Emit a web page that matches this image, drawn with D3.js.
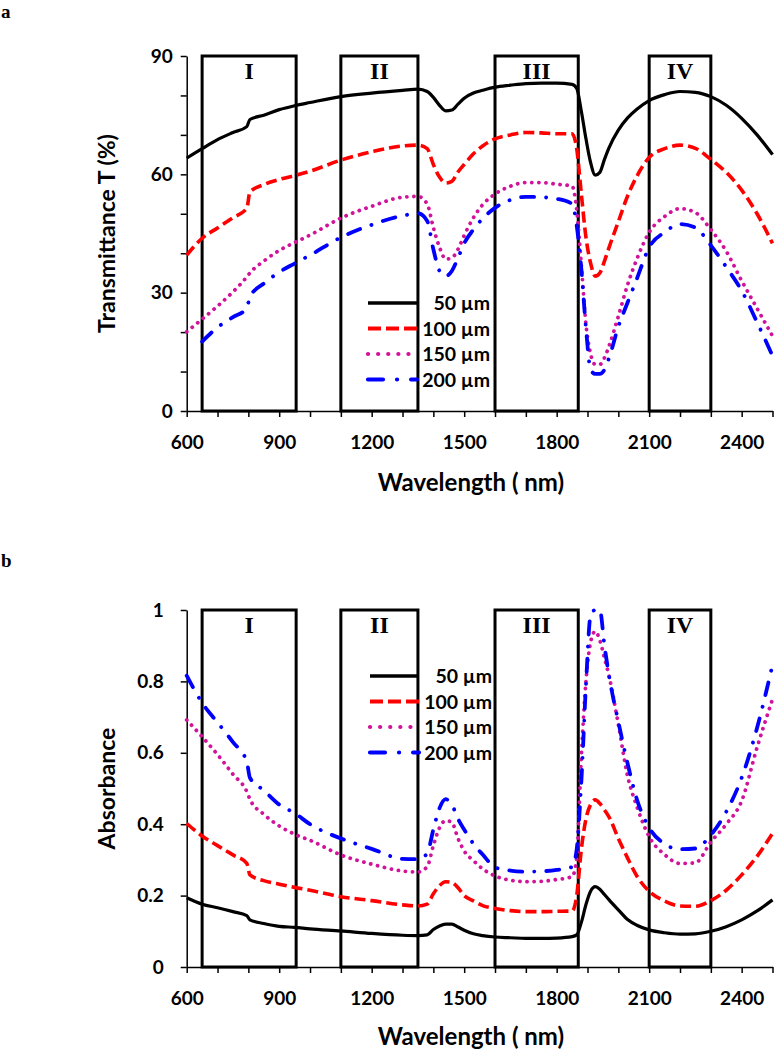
<!DOCTYPE html>
<html>
<head>
<meta charset="utf-8">
<script src="https://cdn.jsdelivr.net/npm/d3@7"></script>
<style>
  html, body { margin: 0; padding: 0; background: #fff; }
  svg { display: block; }
  .tick text { font-family: Lato, "Open Sans", sans-serif; font-weight: 700; font-size: 19px; fill: #000; }
  .axis path, .axis line { stroke: #000; stroke-width: 1.5px; }
</style>
</head>
<body>
<svg id="chart" width="775" height="1050"></svg>
<script>
// ---------- DATA ----------
const wavelength = [600,650,700,750,795,805,850,900,950,1000,1100,1200,1300,1350,1380,1400,1420,1440,1460,1480,1500,1530,1560,1600,1650,1700,1750,1800,1850,1865,1880,1895,1910,1925,1940,1955,1970,2000,2030,2060,2100,2150,2200,2250,2300,2350,2400,2450,2500];
const seriesNames = ["50 \u00b5m", "100 \u00b5m", "150 \u00b5m", "200 \u00b5m"];

// Panel a: transmittance (%)
const trans50  = [64.1,66.5,68.8,70.6,72.1,73.9,75.0,76.4,77.4,78.2,79.7,80.6,81.3,81.6,81.0,79.5,77.5,76.1,76.3,77.8,79.3,80.6,81.3,82.1,82.6,83.0,83.1,83.1,82.8,81.8,76.0,69.0,63.0,59.8,60.5,63.8,66.8,71.2,74.3,76.5,78.7,80.2,81.0,80.8,79.7,77.5,74.2,70.0,65.0];
const trans100 = [39.5,43.8,46.4,49.0,51.4,55.5,57.4,58.7,59.7,60.8,63.6,65.7,67.2,67.4,66.5,62.5,59.3,57.8,58.2,60.6,62.5,65.2,67.2,69.0,70.0,70.6,70.5,70.3,70.3,66.5,55.0,44.0,37.5,34.2,35.0,38.0,41.5,48.0,54.5,59.5,64.3,66.5,67.4,66.6,63.8,60.5,56.0,50.0,42.5];
const trans150 = [20.1,23.3,26.6,30.2,34.0,35.0,38.0,40.7,42.7,44.6,48.9,51.9,54.2,54.4,52.5,46.5,41.5,38.5,38.8,41.0,44.5,49.0,52.3,55.0,57.0,57.9,57.9,57.5,57.0,51.0,37.0,22.0,14.5,11.8,11.8,13.5,16.5,24.0,32.0,38.5,45.3,49.3,51.3,50.3,46.0,40.5,33.0,26.0,19.0];
const trans200 = [null,17.6,21.2,23.8,26.0,29.0,32.3,35.2,37.4,39.5,44.0,47.2,49.5,50.1,48.2,41.0,35.5,34.2,35.5,38.8,42.5,46.0,48.8,51.5,53.5,54.3,54.2,53.8,52.5,47.0,36.0,21.0,10.5,9.4,9.4,10.5,13.5,21.4,27.5,33.5,41.5,45.3,47.4,46.5,42.0,36.5,30.5,22.5,14.0];

// Panel b: absorbance
const abs50  = [0.194,0.176,0.166,0.155,0.144,0.132,0.122,0.114,0.111,0.107,0.101,0.094,0.089,0.088,0.090,0.105,0.115,0.120,0.120,0.112,0.103,0.093,0.088,0.084,0.082,0.080,0.080,0.081,0.085,0.090,0.125,0.175,0.212,0.225,0.218,0.203,0.188,0.160,0.133,0.117,0.104,0.096,0.092,0.093,0.100,0.113,0.132,0.157,0.188];
const abs100 = [0.402,0.367,0.340,0.314,0.290,0.258,0.242,0.232,0.223,0.215,0.197,0.186,0.174,0.171,0.176,0.205,0.228,0.239,0.237,0.222,0.200,0.185,0.172,0.164,0.158,0.155,0.155,0.156,0.157,0.200,0.330,0.415,0.455,0.468,0.458,0.440,0.420,0.360,0.305,0.255,0.212,0.185,0.171,0.170,0.186,0.215,0.258,0.310,0.374];
const abs150 = [0.692,0.645,0.595,0.540,0.491,0.470,0.428,0.395,0.372,0.355,0.314,0.288,0.269,0.266,0.281,0.340,0.390,0.410,0.405,0.360,0.325,0.298,0.275,0.255,0.243,0.239,0.240,0.245,0.253,0.305,0.590,0.800,0.910,0.940,0.915,0.865,0.815,0.680,0.535,0.450,0.365,0.315,0.290,0.292,0.350,0.400,0.465,0.615,0.750];
const abs200 = [0.816,0.740,0.685,0.630,0.575,0.530,0.495,0.455,0.431,0.400,0.360,0.331,0.303,0.302,0.318,0.385,0.445,0.470,0.455,0.415,0.385,0.345,0.315,0.279,0.270,0.267,0.268,0.272,0.280,0.330,0.520,0.790,0.985,1.000,1.000,0.900,0.815,0.687,0.570,0.470,0.390,0.345,0.330,0.332,0.370,0.435,0.530,0.670,0.846];

// Spectral regions (nm)
const regionLabels = ["I", "II", "III", "IV"];
const regionStart  = [650, 1100, 1600, 2100];
const regionEnd    = [955, 1350, 1870, 2300];

// Axis ticks
const xTicks = d3.range(600, 2501, 100);
const xLabelTicks = [600, 900, 1200, 1500, 1800, 2100, 2400];
const transTicks = d3.range(0, 91, 10);
const transLabelTicks = [0, 30, 60, 90];
const absTicks = [0, 0.2, 0.4, 0.6, 0.8, 1];

// ---------- STYLES ----------
const styles = [
  { color: "#000000", width: 3.2, dash: null, cap: "butt" },
  { color: "#ff0000", width: 3.6, dash: "11,5", cap: "butt" },
  { color: "#d0139a", width: 3.8, dash: "0.1,7", cap: "round" },
  { color: "#0000ff", width: 3.8, dash: "13,12,0.1,12", cap: "round" }
];
const legendDash = [null, "13,5", "0.1,10", "15,14,0.1,14"];

const svg = d3.select("#chart");
svg.append("rect").attr("width", 775).attr("height", 1050).attr("fill", "#fff");

const x = d3.scaleLinear().domain([600, 2500]).range([186.7, 772.5]);

function panel(cfg) {
  const g = svg.append("g");
  const y = cfg.y;
  const [y0, y1] = y.range();

  // region boxes
  regionLabels.forEach((lab, i) => {
    g.append("rect")
      .attr("x", x(regionStart[i])).attr("y", y1)
      .attr("width", x(regionEnd[i]) - x(regionStart[i]))
      .attr("height", y0 - y1)
      .attr("fill", "none").attr("stroke", "#000").attr("stroke-width", 3);
    g.append("text")
      .attr("x", (x(regionStart[i]) + x(regionEnd[i])) / 2)
      .attr("y", y1 + 23)
      .attr("text-anchor", "middle")
      .attr("font-family", "'Liberation Serif', 'DejaVu Serif', serif")
      .attr("font-weight", 700).attr("font-size", 24)
      .text(lab);
  });

  // x axis
  g.append("g").attr("class", "axis").attr("transform", `translate(0,${y0})`)
    .call(d3.axisBottom(x).tickValues(xTicks).tickSize(6).tickSizeOuter(0).tickPadding(19)
      .tickFormat(d => xLabelTicks.includes(d) ? d : ""));

  // y axis
  g.append("g").attr("class", "axis").attr("transform", `translate(${x(600)},0)`)
    .call(d3.axisLeft(y).tickValues(cfg.yTicks).tickSize(6).tickSizeOuter(0).tickPadding(cfg.yPad)
      .tickFormat(cfg.yFormat));

  // lines
  const line = d3.line()
    .x(d => x(d[0])).y(d => y(d[1]))
    .curve(d3.curveMonotoneX);
  cfg.series.forEach((vals, i) => {
    const st = styles[i];
    const pts = wavelength.map((w, j) => [w, vals[j]]).filter(d => d[1] !== null);
    g.append("path").datum(pts)
      .attr("d", line)
      .attr("fill", "none")
      .attr("stroke", st.color)
      .attr("stroke-width", st.width)
      .attr("stroke-linecap", st.cap)
      .attr("stroke-linejoin", "round")
      .attr("stroke-dasharray", st.dash);
  });

  // legend
  const lg = g.append("g");
  seriesNames.forEach((name, i) => {
    const st = styles[i];
    const ly = cfg.legendY + i * 25.5;
    lg.append("line")
      .attr("x1", cfg.legendX).attr("x2", cfg.legendX + 49)
      .attr("y1", ly).attr("y2", ly)
      .attr("stroke", st.color).attr("stroke-width", st.width + 0.4)
      .attr("stroke-linecap", st.cap)
      .attr("stroke-dasharray", legendDash[i]);
    lg.append("text")
      .attr("x", cfg.legendX + 122).attr("y", ly + 7)
      .attr("text-anchor", "end")
      .attr("font-family", "Lato, 'Open Sans', sans-serif")
      .attr("font-weight", 700).attr("font-size", 19.5)
      .text(name);
  });

  // axis titles
  g.append("text")
    .attr("x", 471).attr("y", cfg.xTitleY)
    .attr("text-anchor", "middle")
    .attr("font-family", "Lato, 'Open Sans', sans-serif")
    .attr("font-weight", 700).attr("font-size", 24)
    .text("Wavelength ( nm)");
  g.append("text")
    .attr("transform", `translate(115,${(y0 + y1) / 2}) rotate(-90)`)
    .attr("text-anchor", "middle")
    .attr("font-family", "Lato, 'Open Sans', sans-serif")
    .attr("font-weight", 700).attr("font-size", 23)
    .text(cfg.yTitle);

  // panel letter
  g.append("text")
    .attr("x", 1).attr("y", cfg.letterY)
    .attr("font-family", "'Liberation Serif', 'DejaVu Serif', serif")
    .attr("font-weight", 700).attr("font-size", 19)
    .text(cfg.letter);
}

panel({
  y: d3.scaleLinear().domain([0, 90]).range([411, 56]),
  yTicks: transTicks,
  yFormat: d => transLabelTicks.includes(d) ? d : "",
  yPad: 8,
  series: [trans50, trans100, trans150, trans200],
  legendX: 368, legendY: 303,
  xTitleY: 491,
  yTitle: "Transmittance T (%)",
  letter: "a", letterY: 18
});

panel({
  y: d3.scaleLinear().domain([0, 1]).range([967, 610]),
  yTicks: absTicks,
  yFormat: d => d === 0 ? "0" : (d === 1 ? "1" : d3.format(".1f")(d)),
  yPad: 17,
  series: [abs50, abs100, abs150, abs200],
  legendX: 370, legendY: 676,
  xTitleY: 1045,
  yTitle: "Absorbance",
  letter: "b", letterY: 567
});
</script>
</body>
</html>
